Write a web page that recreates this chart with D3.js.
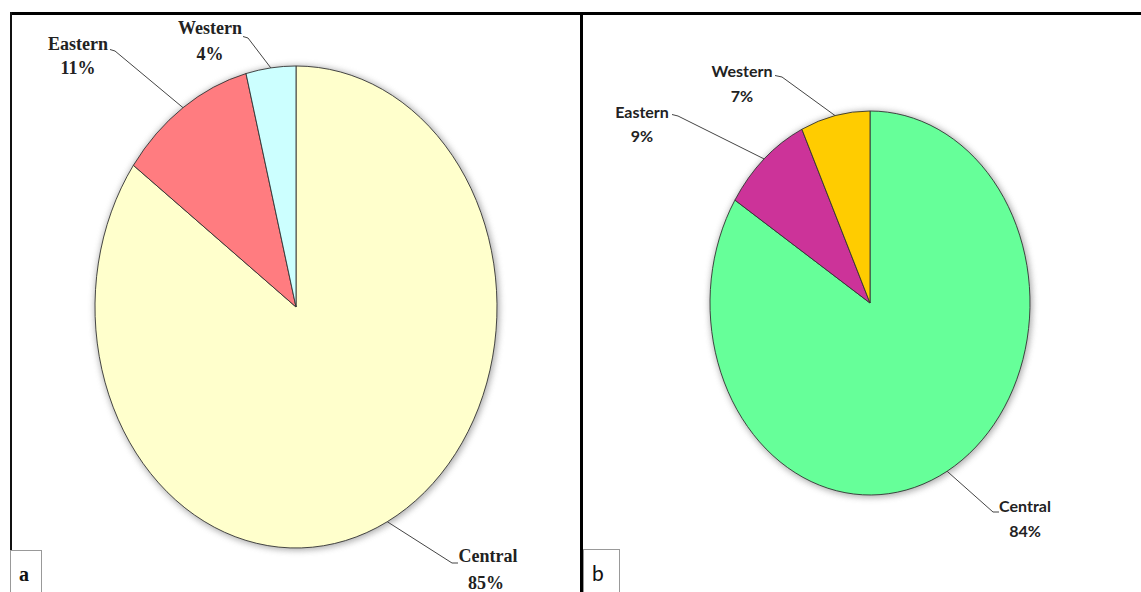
<!DOCTYPE html>
<html><head><meta charset="utf-8">
<script src="https://cdn.jsdelivr.net/npm/d3@7"></script>
<style>body{margin:0;background:#fff;}svg{display:block;}</style>
</head><body>
<svg id="c" width="1141" height="592"></svg>
<script>
const categories = ["Central", "Eastern", "Western"];
const valuesA = [85, 11, 4];
const valuesB = [84, 9, 7];
const colorsA = ["#FFFFCC", "#FF7C80", "#CCFFFF"];
const colorsB = ["#66FF99", "#CC3399", "#FFCC00"];
const panelLetters = ["a", "b"];

const svg = d3.select("#c");
const defs = svg.append("defs");
defs.append("filter").attr("id","sh").attr("x","-20%").attr("y","-20%").attr("width","140%").attr("height","140%")
  .append("feGaussianBlur").attr("stdDeviation", 3);

// frame
svg.append("line").attr("x1",10).attr("x2",1141).attr("y1",13.5).attr("y2",13.5).attr("stroke","#000").attr("stroke-width",3);
svg.append("line").attr("x1",11).attr("x2",11).attr("y1",12).attr("y2",551).attr("stroke","#111").attr("stroke-width",2);

const panels = [
  {values: valuesA, colors: colorsA, cx: 296, cy: 307, rx: 201, ry: 241,
   font: "'Liberation Serif','Times New Roman',serif", fs: 18, gap: 27,
   labels: [{x:488, y:562, lx:452, ly:563, ex:458, px:-2}, {x:78, y:50, lx:115, ly:51, ex:110, px:0}, {x:210, y:34, lx:248, ly:38, ex:243, px:0}],
   box: {x:10, y:550, w:31}, letterX: 24, gapSmall: [0,24,26]},
  {values: valuesB, colors: colorsB, cx: 870, cy: 303, rx: 160, ry: 192,
   font: "Lato, 'Open Sans', sans-serif", fs: 16, gap: 25,
   labels: [{x:1025, y:512, lx:993, ly:512, ex:999, px:0}, {x:642, y:118, lx:678, ly:116, ex:672, px:0}, {x:742, y:77, lx:782, ly:77, ex:775, px:0}],
   box: {x:583, y:549, w:36}, letterX: 598, gapSmall: [25,24,25]}
];

const R = 100;
panels.forEach((p, pi) => {
  const pie = d3.pie().sort(null).startAngle(0).endAngle(2*Math.PI);
  const arcs = pie(p.values);
  const arc = d3.arc().innerRadius(0).outerRadius(R);
  const sx = d3.scaleLinear().domain([-R, R]).range([p.cx - p.rx, p.cx + p.rx]);
  const sy = d3.scaleLinear().domain([-R, R]).range([p.cy - p.ry, p.cy + p.ry]);
  // shadow
  svg.append("ellipse").attr("cx", p.cx + 1).attr("cy", p.cy + 1).attr("rx", p.rx + 1.5).attr("ry", p.ry + 1.5)
    .attr("fill", "#777").attr("opacity", 0.6).attr("filter", "url(#sh)");
  const g = svg.append("g").attr("transform", `translate(${p.cx},${p.cy}) scale(${p.rx/R},${p.ry/R})`);
  g.selectAll("path").data(arcs).join("path")
    .attr("d", arc)
    .attr("fill", (d, i) => p.colors[i])
    .attr("stroke", "#333").attr("stroke-width", 0.9)
    .attr("vector-effect", "non-scaling-stroke");
  // labels and leader lines
  arcs.forEach((a, i) => {
    const m = (a.startAngle + a.endAngle) / 2;
    const px = sx(R * Math.sin(m)), py = sy(-R * Math.cos(m));
    const L = p.labels[i];
    svg.append("path")
      .attr("d", `M${px},${py}L${L.lx},${L.ly}L${L.ex},${L.ly - (i === 0 ? 0 : 1.5)}`)
      .attr("fill", "none").attr("stroke", "#444").attr("stroke-width", 1);
    const t = svg.append("text").attr("text-anchor", "middle")
      .attr("font-family", p.font).attr("font-size", p.fs).attr("font-weight", "bold").attr("fill", "#222");
    t.append("tspan").attr("x", L.x).attr("y", L.y).text(categories[i]);
    t.append("tspan").attr("x", L.x + L.px).attr("y", L.y + (i === 0 ? p.gap : p.gapSmall[i])).text(p.values[i] + "%");
  });
  // letter box
  svg.append("rect").attr("x", p.box.x + 0.5).attr("y", p.box.y + 0.5).attr("width", p.box.w).attr("height", 60)
    .attr("fill", "#fff").attr("stroke", "#999").attr("stroke-width", 1);
  svg.append("text").attr("x", p.letterX).attr("y", 581).attr("text-anchor", "middle")
    .attr("font-family", pi === 0 ? "'Liberation Serif',serif" : "Lato, 'Liberation Sans',sans-serif")
    .attr("font-weight", pi === 0 ? "bold" : "normal")
    .attr("font-size", pi === 0 ? 20 : 21).attr("fill", "#111").text(panelLetters[pi]);
});
svg.append("line").attr("x1",581.5).attr("x2",581.5).attr("y1",12).attr("y2",592).attr("stroke","#000").attr("stroke-width",3);
</script>
</body></html>
